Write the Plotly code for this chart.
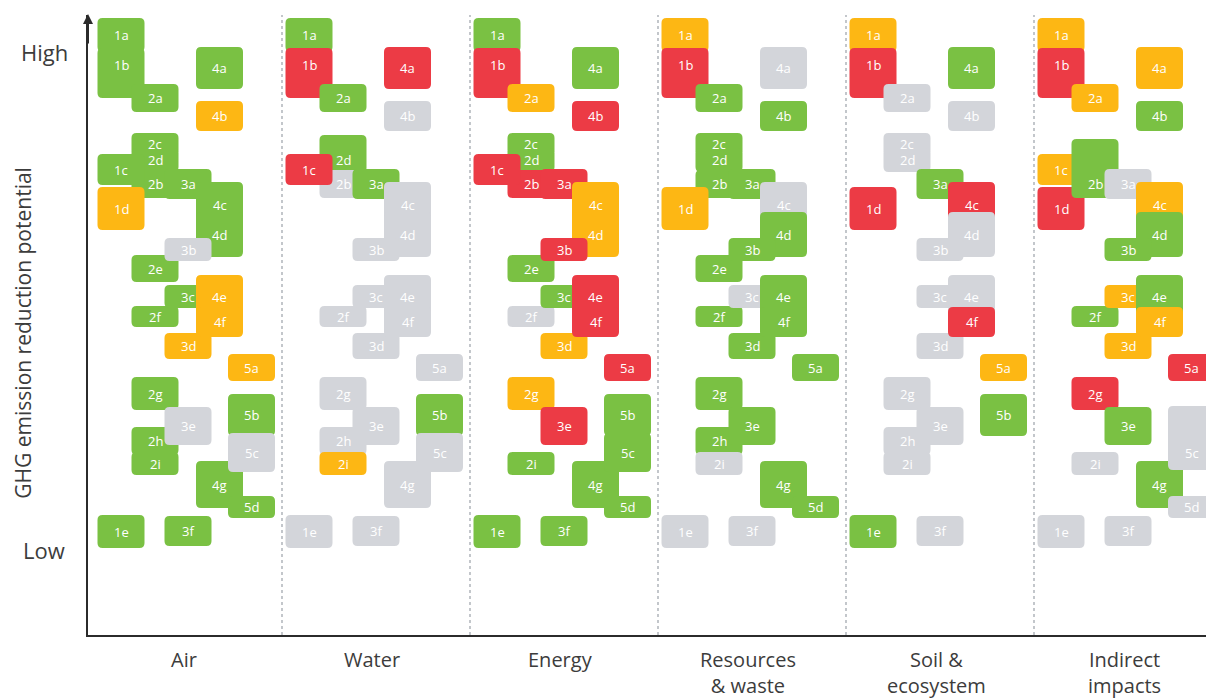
import plotly.graph_objects as go

# ---------------- data ----------------
CATEGORIES = ["Air", "Water", "Energy", "Resources<br>& waste", "Soil &<br>ecosystem", "Indirect<br>impacts"]
MEASURES = ["1a", "1b", "1c", "1d", "1e",
            "2a", "2b", "2c", "2d", "2e", "2f", "2g", "2h", "2i",
            "3a", "3b", "3c", "3d", "3e", "3f",
            "4a", "4b", "4c", "4d", "4e", "4f", "4g",
            "5a", "5b", "5c", "5d"]
# GHG emission reduction potential range (arbitrary units, Low=85, High=583)
POT_HIGH = [617, 587, 481, 448, 120,
            551, 465, 502, 487, 380, 329, 258, 208, 183,
            466, 397, 350, 302, 228, 119,
            588, 534, 453, 423, 360, 328, 174,
            281, 241, 202, 139]
POT_LOW = [583, 537, 450, 405, 87,
           523, 437, 480, 463, 353, 308, 225, 180, 160,
           436, 374, 327, 276, 190, 89,
           546, 504, 407, 378, 317, 298, 127,
           254, 199, 163, 117]
# ratings per category: G = positive, A = moderate, R = negative, N = not assessed, "" = not applicable
AIR = ["G", "G", "G", "A", "G",
       "G", "G", "G", "G", "G", "G", "G", "G", "G",
       "G", "N", "G", "A", "N", "G",
       "G", "A", "G", "G", "A", "A", "G",
       "A", "G", "N", "G"]
WATER = ["G", "R", "R", "", "N",
         "G", "N", "", "G", "", "N", "N", "N", "A",
         "G", "N", "N", "N", "N", "N",
         "R", "N", "N", "N", "N", "N", "N",
         "N", "G", "N", ""]
ENERGY = ["G", "R", "R", "", "G",
          "A", "R", "G", "G", "G", "N", "A", "", "G",
          "R", "R", "G", "A", "R", "G",
          "G", "R", "A", "A", "R", "R", "G",
          "R", "G", "G", "G"]
RESOURCES = ["A", "R", "", "A", "N",
             "G", "G", "G", "G", "G", "G", "G", "G", "N",
             "G", "G", "N", "G", "G", "N",
             "N", "G", "N", "G", "G", "G", "G",
             "G", "", "", "G"]
SOIL = ["A", "R", "", "R", "G",
        "N", "", "N", "N", "", "", "N", "N", "N",
        "G", "N", "N", "N", "N", "N",
        "G", "N", "R", "N", "N", "R", "",
        "A", "G", "", ""]
INDIRECT = ["A", "R", "A", "R", "N",
            "A", "G", "", "", "", "G", "R", "", "N",
            "N", "G", "A", "A", "G", "N",
            "A", "G", "A", "G", "G", "A", "G",
            "R", "", "N", "N"]
RATINGS = [AIR, WATER, ENERGY, RESOURCES, SOIL, INDIRECT]
# category-specific ranges that differ from the common one
RANGE_OVERRIDES = {(1, "2d"): (462, 500), (5, "2b"): (437, 496), (5, "5c"): (165, 229)}

Y_TICKS = [583, 85]
Y_TICK_TEXT = ["High", "Low"]

# ---------------- layout / style ----------------
COLORS = {"G": "#7AC143", "A": "#FDB714", "R": "#EC3B45", "N": "#D3D5DA"}
PANEL_W = 188
COL_LEFT = {"1": 3.5, "2": 37.5, "3": 70.5, "4": 102, "5": 134}
BLOCK_W = 47
RADIUS = 5
LABEL_SHIFT = {"1b": 8}
DRAW_ORDER = ["1a", "1b", "2a", "4a", "4b", "2c", "2d", "2b", "1c", "1d", "3a", "4c", "4d",
              "2e", "3b", "2f", "3c", "4e", "3d", "4f", "5a", "2g", "2h", "2i", "3e",
              "5b", "4g", "5c", "5d", "1e", "3f"]
FONT = "Open Sans"
TEXT_COLOR = "#3C3C3C"


def rounded_path(x0, x1, y0, y1, r):
    return (f"M {x0 + r},{y0} L {x1 - r},{y0} Q {x1},{y0} {x1},{y0 + r} "
            f"L {x1},{y1 - r} Q {x1},{y1} {x1 - r},{y1} L {x0 + r},{y1} "
            f"Q {x0},{y1} {x0},{y1 - r} L {x0},{y0 + r} Q {x0},{y0} {x0 + r},{y0} Z")


idx = {m: i for i, m in enumerate(MEASURES)}
shapes = []
annotations = []

# dotted separators
for k in range(1, len(CATEGORIES)):
    shapes.append(dict(type="line", xref="x", yref="y", x0=k * PANEL_W, x1=k * PANEL_W,
                       y0=0, y1=620, line=dict(color="#A4A9B0", width=1.3, dash="dot"),
                       layer="below"))

for k, ratings in enumerate(RATINGS):
    order = list(DRAW_ORDER)
    if k == 5:
        order.remove("2b")
        order.insert(order.index("1d") + 1, "2b")
    for m in order:
        i = idx[m]
        rating = ratings[i]
        if not rating:
            continue
        lo, hi = RANGE_OVERRIDES.get((k, m), (POT_LOW[i], POT_HIGH[i]))
        x0 = k * PANEL_W + COL_LEFT[m[0]]
        x1 = x0 + BLOCK_W
        shapes.append(dict(type="path", xref="x", yref="y",
                           path=rounded_path(x0, x1, lo, hi, RADIUS),
                           fillcolor=COLORS[rating], line=dict(width=0), layer="above"))
        ly = (POT_LOW[i] + POT_HIGH[i]) / 2 + LABEL_SHIFT.get(m, 0)
        annotations.append(dict(x=(x0 + x1) / 2, y=ly, xref="x", yref="y", text=m,
                                showarrow=False, font=dict(family=FONT, size=13, color="white")))

# category labels
for k, c in enumerate(CATEGORIES):
    annotations.append(dict(x=k * PANEL_W + PANEL_W / 2 - 4, y=0, xref="x", yref="paper",
                            yanchor="top", yshift=-9, text=c, showarrow=False, align="center",
                            font=dict(family=FONT, size=20, color=TEXT_COLOR)))

# y tick labels
for v, t in zip(Y_TICKS, Y_TICK_TEXT):
    annotations.append(dict(x=-0.039, y=v, xref="paper", yref="y", text=t, showarrow=False,
                            xanchor="center", font=dict(family=FONT, size=22, color=TEXT_COLOR)))

# y axis title
annotations.append(dict(x=-0.058, y=302, xref="paper", yref="y", text="GHG emission reduction potential",
                        textangle=-90, showarrow=False, xanchor="center", yanchor="middle",
                        font=dict(family=FONT, size=21, color=TEXT_COLOR)))

# axis arrow
annotations.append(dict(x=-6, y=621, ax=-6, ay=590, xref="x", yref="y", axref="x", ayref="y",
                        text="", showarrow=True, arrowhead=2, arrowsize=1, arrowwidth=2,
                        arrowcolor="#2B2B2B"))

fig = go.Figure(go.Scatter(x=[0], y=[0], mode="markers", marker=dict(opacity=0),
                           hoverinfo="skip", showlegend=False))
# the page adds an 8 px body margin, so the figure is 8 px smaller than the window
fig.update_layout(
    width=1206, height=692,
    margin=dict(l=80, r=0, t=7, b=65),
    plot_bgcolor="white", paper_bgcolor="white",
    shapes=shapes, annotations=annotations, showlegend=False,
    xaxis=dict(range=[-6, 1120], showgrid=False, zeroline=False, showticklabels=False,
               showline=True, linecolor="#2B2B2B", linewidth=2, fixedrange=True),
    yaxis=dict(range=[0, 620], showgrid=False, zeroline=False, showticklabels=False,
               showline=True, linecolor="#2B2B2B", linewidth=2, fixedrange=True),
)
fig.write_html("out.html")
